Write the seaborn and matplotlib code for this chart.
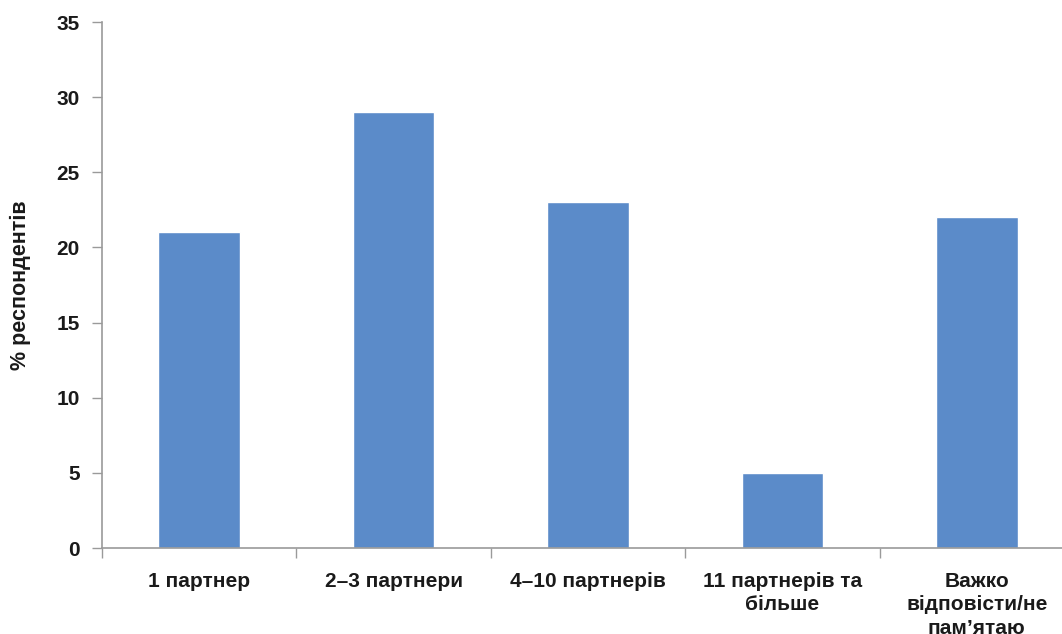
import matplotlib
matplotlib.use("Agg")
import matplotlib.pyplot as plt
import seaborn as sns
import pandas as pd

categories = ["1 партнер", "2–3 партнери", "4–10 партнерів",
              "11 партнерів та\nбільше", "Важко\nвідповісти/не\nпам’ятаю"]
values = [21, 29, 23, 5, 22]
y_ticks = [0, 5, 10, 15, 20, 25, 30, 35]
y_label = "% респондентів"

sns.set_theme(style="white")
plt.rcParams['font.family'] = ['Liberation Sans', 'DejaVu Sans']
plt.rcParams['font.weight'] = 'bold'

df = pd.DataFrame({"cat": categories, "val": values})

fig = plt.figure(figsize=(10.62, 6.34), dpi=100)
# axes extends beyond the right edge of the figure, as in the reference
ax = fig.add_axes([102 / 1062, 86 / 634, 972 / 1062, 526 / 634])
sns.barplot(data=df, x="cat", y="val", color="#5B8BC9", saturation=1,
            width=0.42, ax=ax)
ax.set_xlim(-0.5, len(categories) - 0.5)
ax.set_ylim(0, 35)
ax.set_yticks(y_ticks)
ax.set_yticklabels([str(t) for t in y_ticks], fontsize=15, fontweight='bold',
                   color='#1a1a1a')
ax.set_xticks(range(len(categories)))
ax.set_xticklabels(categories, fontsize=15, fontweight='bold',
                   linespacing=1.3, va='top', color='#1a1a1a')
ax.set_xticks([i - 0.5 for i in range(len(categories) + 1)], minor=True)
ax.tick_params(axis='x', which='major', length=0, pad=17)
ax.tick_params(axis='x', which='minor', length=7, width=1, color='#9a9a9a',
               direction='out', bottom=True)
ax.tick_params(axis='y', which='major', length=7, width=1, color='#9a9a9a',
               direction='out', pad=9, left=True)
ax.set_xlabel("")
ax.set_ylabel(y_label, fontsize=15.5, fontweight='bold', labelpad=18,
              color='#1a1a1a')
for s in ['top', 'right']:
    ax.spines[s].set_visible(False)
for s in ['left', 'bottom']:
    ax.spines[s].set_color('#9a9a9a')
    ax.spines[s].set_linewidth(1.2)
fig.savefig("out.png", dpi=100)
